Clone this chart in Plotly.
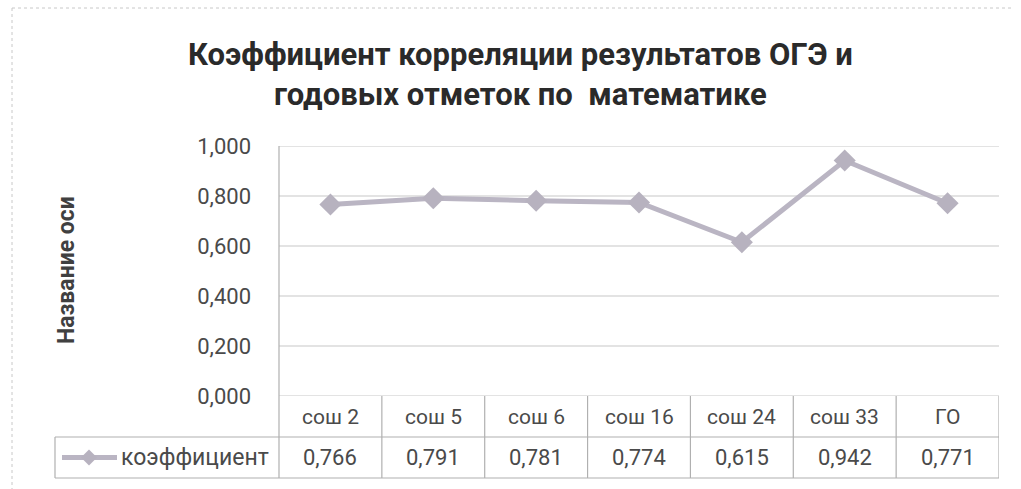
import plotly.graph_objects as go

categories = ["сош 2", "сош 5", "сош 6", "сош 16", "сош 24", "сош 33", "ГО"]
values = [0.766, 0.791, 0.781, 0.774, 0.615, 0.942, 0.771]
value_labels = ["0,766", "0,791", "0,781", "0,774", "0,615", "0,942", "0,771"]
series_name = "коэффициент"
y_ticks = [0.0, 0.2, 0.4, 0.6, 0.8, 1.0]

W, H = 1021, 489
L, R, T, B = 279, 22, 146, 93
plot_w = W - L - R
plot_h = H - T - B
row_h = 41 / plot_h

line_col = "#bab5c3"
grid_col = "#c8c8c8"
border_col = "#b0b0b0"
text_col = "#4a4a4a"
font_fam = "Roboto, sans-serif"


def px(xp):
    return (xp - L) / plot_w


def py(yp):
    return (T + plot_h - yp) / plot_h


fig = go.Figure()
fig.add_trace(go.Scatter(
    x=list(range(len(categories))), y=values, mode="lines+markers",
    line=dict(color=line_col, width=5),
    marker=dict(symbol="diamond", size=17, color="#b7b2bf"),
    name=series_name, showlegend=False, hoverinfo="skip"))

shapes = []
for v in y_ticks:
    shapes.append(dict(type="line", xref="paper", yref="y", x0=0, x1=1, y0=v, y1=v,
                       line=dict(color=grid_col, width=1.2), layer="below"))
shapes.append(dict(type="line", xref="paper", yref="paper", x0=0, x1=0, y0=1, y1=-2 * row_h,
                   line=dict(color=border_col, width=1.2)))
n = len(categories)
for i in range(1, n + 1):
    shapes.append(dict(type="line", xref="x", yref="paper", x0=i - 0.5, x1=i - 0.5,
                       y0=0, y1=-2 * row_h, line=dict(color=border_col, width=1.2)))
leg_x0 = px(55)
shapes.append(dict(type="line", xref="paper", yref="paper", x0=leg_x0, x1=1, y0=-row_h, y1=-row_h,
                   line=dict(color=border_col, width=1.2)))
shapes.append(dict(type="line", xref="paper", yref="paper", x0=leg_x0, x1=1, y0=-2 * row_h, y1=-2 * row_h,
                   line=dict(color=border_col, width=1.2)))
shapes.append(dict(type="line", xref="paper", yref="paper", x0=leg_x0, x1=leg_x0, y0=-row_h, y1=-2 * row_h,
                   line=dict(color=border_col, width=1.2)))
# legend key
ky = -1.5 * row_h
shapes.append(dict(type="line", xref="paper", yref="paper", x0=px(62), x1=px(117),
                   y0=ky, y1=ky, line=dict(color=line_col, width=5)))
cx, cy, d = 89, 396 + 41 * 1.5, 8
path = "M {} {} L {} {} L {} {} L {} {} Z".format(px(cx - d), py(cy), px(cx), py(cy - d),
                                                   px(cx + d), py(cy), px(cx), py(cy + d))
shapes.append(dict(type="path", xref="paper", yref="paper", path=path,
                   fillcolor="#b7b2bf", line=dict(color="#b7b2bf", width=0)))
# outer frame (left and top)
shapes.append(dict(type="line", xref="paper", yref="paper", x0=px(12), x1=px(12), y0=py(8), y1=py(489),
                   line=dict(color="#c8c8c8", width=1, dash="dot")))
shapes.append(dict(type="line", xref="paper", yref="paper", x0=px(12), x1=px(1012), y0=py(8), y1=py(8),
                   line=dict(color="#c8c8c8", width=1, dash="dot")))

annotations = []
for i, (c, vl) in enumerate(zip(categories, value_labels)):
    annotations.append(dict(x=i, y=-0.5 * row_h, xref="x", yref="paper", text=c, showarrow=False,
                            xanchor="center", yanchor="middle",
                            font=dict(family=font_fam, size=21, color=text_col)))
    annotations.append(dict(x=i, y=-1.5 * row_h, xref="x", yref="paper", text=vl, showarrow=False,
                            xanchor="center", yanchor="middle",
                            font=dict(family=font_fam, size=22, color=text_col)))
annotations.append(dict(x=px(119), y=-1.5 * row_h, xref="paper", yref="paper", text=series_name,
                        showarrow=False, xanchor="left", yanchor="middle",
                        font=dict(family=font_fam, size=23, color=text_col)))
annotations.append(dict(x=px(66), y=py(270), xref="paper", yref="paper", text="<b>Название оси</b>",
                        showarrow=False, textangle=-90, xanchor="center", yanchor="middle",
                        font=dict(family=font_fam, size=23, color="#404040")))
annotations.append(dict(x=px(520), y=py(75), xref="paper", yref="paper",
                        text="<b>Коэффициент корреляции результатов ОГЭ и<br>годовых отметок по  математике</b>",
                        showarrow=False, align="center", xanchor="center", yanchor="middle",
                        font=dict(family=font_fam, size=31, color="#2a2a2a")))

fig.update_layout(
    width=W, height=H, margin=dict(l=L, r=R, t=T, b=B),
    paper_bgcolor="white", plot_bgcolor="white",
    separators=", ",
    shapes=shapes, annotations=annotations,
    xaxis=dict(range=[-0.5, n - 0.5], showticklabels=False, showgrid=False, zeroline=False,
               showline=False, fixedrange=True),
    yaxis=dict(range=[0, 1], tickvals=y_ticks, tickformat=".3f", showgrid=False, zeroline=False,
               showline=False, ticks="", ticklabelstandoff=27,
               tickfont=dict(family=font_fam, size=22, color=text_col)),
    showlegend=False,
)
fig.write_html("out.html", config={"displayModeBar": False},
               post_script="document.body.style.margin='0px';")
